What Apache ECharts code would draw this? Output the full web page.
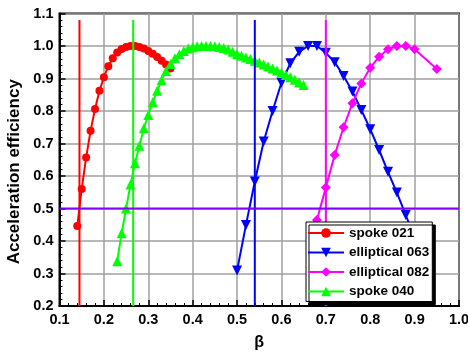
<!DOCTYPE html>
<html>
<head>
<meta charset="utf-8">
<script src="https://cdn.jsdelivr.net/npm/echarts@6/dist/echarts.min.js"></script>
<style>html,body{margin:0;padding:0;background:#fff}#c{width:468px;height:359px}</style>
</head>
<body>
<div id="c"></div>
<script>
// ---- data ----
const xTicks = ['0.1','0.2','0.3','0.4','0.5','0.6','0.7','0.8','0.9','1.0'];
const yTicks = ['0.2','0.3','0.4','0.5','0.6','0.7','0.8','0.9','1.0','1.1'];

const betaSpoke021 = [0.14,0.15,0.16,0.17,0.18,0.19,0.20,0.21,0.22,0.23,0.24,0.25,0.26,0.27,0.28,0.29,0.30,0.31,0.32,0.33,0.34,0.35];
const effSpoke021  = [0.446,0.560,0.657,0.739,0.806,0.862,0.904,0.938,0.962,0.980,0.991,0.997,1.000,1.000,0.997,0.992,0.985,0.976,0.966,0.955,0.943,0.931];

const betaEll063 = [0.50,0.52,0.54,0.56,0.58,0.60,0.62,0.64,0.66,0.68,0.70,0.72,0.74,0.76,0.78,0.80,0.82,0.84,0.86,0.88,0.90];
const effEll063  = [0.309,0.449,0.583,0.706,0.800,0.887,0.947,0.982,1.000,1.000,0.979,0.950,0.908,0.860,0.803,0.744,0.680,0.613,0.549,0.480,0.410];

const betaEll082 = [0.68,0.70,0.72,0.74,0.76,0.78,0.80,0.82,0.84,0.86,0.88,0.90,0.95];
const effEll082  = [0.465,0.565,0.665,0.750,0.824,0.885,0.933,0.967,0.990,1.000,1.000,0.990,0.929];

const betaSpoke040 = [0.23,0.24,0.25,0.26,0.27,0.28,0.29,0.30,0.31,0.32,0.33,0.34,0.35,0.36,0.37,0.38,0.39,0.40,0.41,0.42,0.43,0.44,0.45,0.46,0.47,0.48,0.49,0.50,0.51,0.52,0.53,0.54,0.55,0.56,0.57,0.58,0.59,0.60,0.61,0.62,0.63,0.64,0.65];
const effSpoke040  = [0.338,0.424,0.500,0.574,0.639,0.693,0.747,0.788,0.827,0.862,0.895,0.923,0.945,0.962,0.975,0.985,0.992,0.996,0.999,1.000,1.000,1.000,0.999,0.997,0.994,0.989,0.982,0.975,0.970,0.965,0.960,0.955,0.949,0.943,0.937,0.931,0.925,0.918,0.911,0.904,0.896,0.888,0.880];

const designBeta = [0.145, 0.266, 0.540, 0.700];
const designNames = ['spoke 021','spoke 040','elliptical 063','elliptical 082'];
const designColors = ['#ff0000','#00ff00','#0000ff','#ff00ff'];
const markerTop = 1.08;
const yMin = 0.2;
const halfEff = 0.5;

const pairs = (xs, ys) => xs.map((x, i) => [x, ys[i]]);

const FONT = 'Arial, "Liberation Sans", sans-serif';

const curveSeries = [
  {name:'spoke 021', data:pairs(betaSpoke021, effSpoke021), color:'#ff0000', symbol:'circle', symbolSize:8, symbolRotate:0},
  {name:'elliptical 063', data:pairs(betaEll063, effEll063), color:'#0000ff', symbol:'triangle', symbolSize:10, symbolRotate:180},
  {name:'elliptical 082', data:pairs(betaEll082, effEll082), color:'#ff00ff', symbol:'diamond', symbolSize:10, symbolRotate:0},
  {name:'spoke 040', data:pairs(betaSpoke040, effSpoke040), color:'#00ff00', symbol:'triangle', symbolSize:10, symbolRotate:0}
].map(s => ({
  type:'line', name:s.name, data:s.data, symbol:s.symbol, symbolSize:s.symbolSize, symbolRotate:s.symbolRotate,
  showAllSymbol:true, itemStyle:{color:s.color}, lineStyle:{color:s.color, width:2}, z:3, animation:false
}));

const vlines = designBeta.map((b, i) => ({
  type:'line', name:'v_' + designNames[i], data:[[b, yMin],[b, markerTop]], showSymbol:false, symbol:'none',
  lineStyle:{color:designColors[i], width:2}, itemStyle:{color:designColors[i]}, z:4, animation:false, silent:true
}));

const hline = {
  type:'line', name:'half', data:[[0.1, halfEff],[1.0, halfEff]], symbol:'none',
  lineStyle:{color:'#8000ff', width:2}, z:5, animation:false, silent:true
};

const chart = echarts.init(document.getElementById('c'), null, {renderer:'canvas'});
chart.setOption({
  backgroundColor:'#fff',
  animation:false,
  grid:{left:59.5, right:9, top:13.5, bottom:53, show:true, borderColor:'#000', borderWidth:2, backgroundColor:'transparent',
        containLabel:false, outerBoundsMode:'none'},
  xAxis:{
    type:'value', min:0.1, max:1.0, interval:0.1,
    name:'β', nameLocation:'middle', nameGap:29,
    nameTextStyle:{fontFamily:FONT, fontWeight:'bold', fontSize:16, color:'#000'},
    axisLine:{show:true, lineStyle:{color:'#000', width:2}},
    axisTick:{show:true, inside:true, length:6, lineStyle:{color:'#000', width:1.5}},
    minorTick:{show:true, splitNumber:5, length:3, lineStyle:{color:'#000', width:1}},
    splitLine:{show:true, lineStyle:{color:'#a0a0a0', width:1.5}},
    axisLabel:{fontFamily:FONT, fontWeight:'bold', fontSize:14.5, color:'#000', margin:6,
      formatter:(v)=>{const t=v.toFixed(1); return xTicks.includes(t)?t:'';}}
  },
  yAxis:{
    type:'value', min:0.2, max:1.1, interval:0.1,
    name:'Acceleration efficiency', nameLocation:'middle', nameGap:28.5, nameRotate:90,
    nameTextStyle:{fontFamily:FONT, fontWeight:'bold', fontSize:17, color:'#000', padding:[0,24,0,0]},
    axisLine:{show:true, lineStyle:{color:'#000', width:2}},
    axisTick:{show:true, inside:true, length:6, lineStyle:{color:'#000', width:1.5}},
    minorTick:{show:true, splitNumber:5, length:3, lineStyle:{color:'#000', width:1}},
    splitLine:{show:true, lineStyle:{color:'#a0a0a0', width:1.5}},
    axisLabel:{fontFamily:FONT, fontWeight:'bold', fontSize:14.5, color:'#000', margin:6,
      formatter:(v)=>{const t=v.toFixed(1); return yTicks.includes(t)?t:'';}}
  },
  legend:{
    data:['spoke 021','elliptical 063','elliptical 082','spoke 040'],
    orient:'vertical', left:306, top:222,
    itemWidth:36, itemHeight:12, itemGap:5.5,
    padding:[4,3,3,1],
    backgroundColor:'#fff', borderColor:'#000', borderWidth:1, borderRadius:0,
    shadowColor:'#000', shadowBlur:0, shadowOffsetX:3, shadowOffsetY:3,
    textStyle:{fontFamily:FONT, fontWeight:'bold', fontSize:13.5, color:'#000'},
    selectedMode:false, z:10
  },
  series:[...curveSeries, ...vlines, hline]
});
</script>
</body>
</html>
